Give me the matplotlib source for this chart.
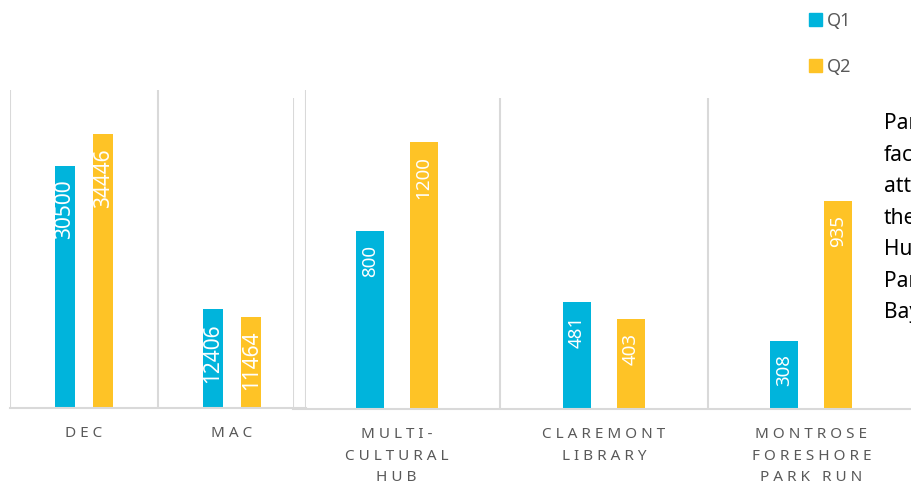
import matplotlib
matplotlib.use('Agg')
import matplotlib.pyplot as plt
from matplotlib.patches import Patch

plt.rcParams['font.family'] = ['Noto Sans', 'DejaVu Sans']

# Big venues (own scale)
cats_a = ['DEC', 'MAC']
q1_a = [30500, 12406]
q2_a = [34446, 11464]

# Smaller venues (shared scale)
cats_b = ['MULTI-\nCULTURAL\nHUB', 'CLAREMONT\nLIBRARY', 'MONTROSE\nFORESHORE\nPARK RUN']
q1_b = [800, 481, 308]
q2_b = [1200, 403, 935]

note_lines = ['Parks and', 'facilities', 'attendance', 'the', 'Hub', 'Park', 'Bay']

BLUE = '#00B4DC'
GOLD = '#FEC326'
GRID = '#D9D9D9'
LABEL = '#595959'

W, H = 912, 496
fig = plt.figure(figsize=(W / 100, H / 100), dpi=100)


def px_axes(left, top, right, bottom):
    return fig.add_axes([left / W, 1 - bottom / H, (right - left) / W, (bottom - top) / H])


def spaced(text):
    return '\n'.join(' '.join(line) for line in text.split('\n'))


def draw_panel(ax, cats, q1, q2, ymax, val_size):
    n = len(cats)
    x = list(range(n))
    width = 0.135
    off = 0.13
    b1 = ax.bar([i - off for i in x], q1, width, color=BLUE)
    b2 = ax.bar([i + off for i in x], q2, width, color=GOLD)
    for bars, vals in ((b1, q1), (b2, q2)):
        for rect, v in zip(bars, vals):
            ax.annotate(str(v), xy=(rect.get_x() + rect.get_width() / 2, v),
                        xytext=(0, -10), textcoords='offset points',
                        rotation=90, ha='center', va='top',
                        color='white', fontsize=val_size)
    ax.set_xlim(-0.5, n - 0.5)
    ax.set_ylim(0, ymax)
    ax.set_xticks(x, [spaced(c) for c in cats])
    ax.set_xticks([i - 0.5 for i in range(n + 1)], minor=True)
    ax.tick_params(axis='x', which='both', length=0, pad=13,
                   labelcolor=LABEL, labelsize=11)
    for lbl in ax.get_xticklabels():
        lbl.set_linespacing(1.6)
        lbl.set_verticalalignment('top')
    ax.grid(True, which='minor', axis='x', color=GRID, lw=1.5)
    ax.yaxis.set_visible(False)
    for s in ('left', 'right', 'top'):
        ax.spines[s].set_visible(False)
    ax.spines['bottom'].set_color(GRID)
    ax.spines['bottom'].set_linewidth(1.5)
    ax.set_facecolor('none')
    ax.set_axisbelow(True)


ax_b = px_axes(293, 98, 915, 409)
draw_panel(ax_b, cats_b, q1_b, q2_b, 1400, 13.5)

ax_a = px_axes(10, 90, 306, 408)
draw_panel(ax_a, cats_a, q1_a, q2_a, 40000, 15)

handles = [Patch(color=BLUE, label='Q1'), Patch(color=GOLD, label='Q2')]
fig.legend(handles=handles, loc='upper left', bbox_to_anchor=(809 / W, 1 - 12 / H),
           frameon=False, borderpad=0, borderaxespad=0,
           handlelength=0.7, handleheight=0.7, handletextpad=0.3,
           labelspacing=1.55, fontsize=13, labelcolor=LABEL)

fig.text(884 / W, 1 - 113 / H, '\n'.join(note_lines), ha='left', va='top',
         fontsize=15, linespacing=1.66, color='black')

fig.savefig('out.png', dpi=100)
